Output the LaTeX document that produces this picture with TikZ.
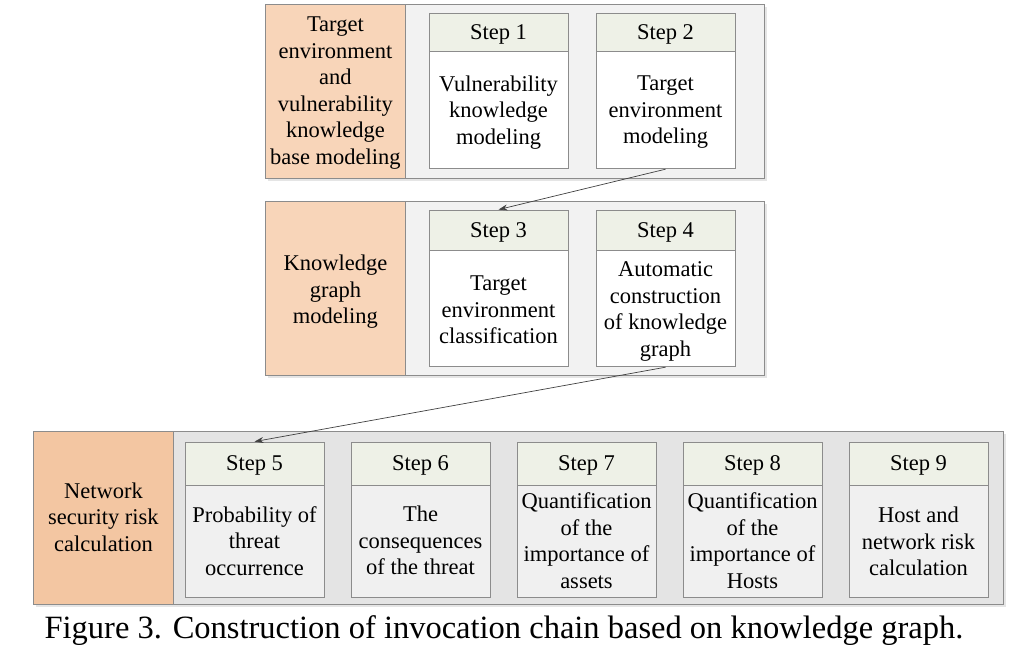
\documentclass[tikz,border=0pt]{standalone}
\usepackage{fontspec}
\setmainfont{Liberation Serif}
\usetikzlibrary{arrows.meta}
\definecolor{orangeA}{HTML}{F8D5B9}
\definecolor{orangeB}{HTML}{F3C6A2}
\definecolor{panelA}{HTML}{F2F2F2}
\definecolor{panelB}{HTML}{E4E4E4}
\definecolor{headC}{HTML}{EEF1E7}
\definecolor{bodyB}{HTML}{F0F0F0}
\definecolor{edgeC}{HTML}{8C8C8C}
\tikzset{
  txt/.style={font=\fontsize{22.5}{26.5}\selectfont, align=center, inner sep=0pt},
  panel/.style={draw=edgeC, line width=0.8pt, rectangle},
  sidecell/.style={draw=edgeC, line width=0.8pt, rectangle, inner sep=0pt, txt},
  stephead/.style={draw=edgeC, line width=0.8pt, fill=headC, rectangle, inner sep=0pt, minimum width=139pt, txt, text depth=0pt},
  stepbody/.style={draw=edgeC, line width=0.8pt, rectangle, inner sep=0pt, minimum width=139pt, txt},
  link/.style={draw=black!75, line width=0.7pt, -{Stealth[length=9pt,width=6pt]}},
}
\begin{document}
\begin{tikzpicture}[x=1pt,y=-1pt]
\useasboundingbox (0,0) rectangle (1034,666);
% shadows
\fill[black!10] (268,7) rectangle (767,181);
\fill[black!10] (268,204) rectangle (767,378);
\fill[black!10] (36,434) rectangle (1006,607);
% panels
\node[panel, fill=panelA, minimum width=499pt, minimum height=174pt, anchor=north west] (p1) at (265,4) {};
\node[panel, fill=panelA, minimum width=499pt, minimum height=174pt, anchor=north west] (p2) at (265,201) {};
\node[panel, fill=panelB, minimum width=970pt, minimum height=173pt, anchor=north west] (p3) at (33,431) {};
% side cells
\node[sidecell, fill=orangeA, minimum width=140pt, minimum height=174pt, anchor=north west] (c1) at (265,4) {};
\node[txt] at ([yshift=-1.5pt]c1.center) {Target\\environment\\and\\vulnerability\\knowledge\\base modeling};
\node[sidecell, fill=orangeA, minimum width=140pt, minimum height=174pt, anchor=north west] (c2) at (265,201) {};
\node[txt] at ([yshift=-3.5pt]c2.center) {Knowledge\\graph\\modeling};
\node[sidecell, fill=orangeB, minimum width=140pt, minimum height=173pt, anchor=north west] (c3) at (33,431) {};
\node[txt] at ([yshift=1pt]c3.center) {Network\\security risk\\calculation};
% step 1, 2
\node[stephead, minimum height=38pt] (s1h) at (498.5,32) {Step 1};
\node[stepbody, fill=white, minimum height=117pt, anchor=north] (s1b) at (s1h.south) {};
\node[txt] at ([yshift=-2pt]s1b.center) {Vulnerability\\knowledge\\modeling};
\node[stephead, minimum height=38pt] (s2h) at (665.5,32) {Step 2};
\node[stepbody, fill=white, minimum height=117pt, anchor=north] (s2b) at (s2h.south) {};
\node[txt] at ([yshift=-2pt]s2b.center) {Target\\environment\\modeling};
% step 3, 4
\node[stephead, minimum height=40pt] (s3h) at (498.5,230) {Step 3};
\node[stepbody, fill=white, minimum height=116pt, anchor=north] (s3b) at (s3h.south) {};
\node[txt] at ([yshift=-1pt]s3b.center) {Target\\environment\\classification};
\node[stephead, minimum height=40pt] (s4h) at (665.5,230) {Step 4};
\node[stepbody, fill=white, minimum height=116pt, anchor=north] (s4b) at (s4h.south) {};
\node[txt] at ([yshift=-2.5pt]s4b.center) {Automatic\\construction\\of knowledge\\graph};
% steps 5-9
\node[stephead, minimum height=43pt] (s5h) at (254.5,463.5) {Step 5};
\node[stepbody, fill=bodyB, minimum height=112pt, anchor=north] (s5b) at (s5h.south) {};
\node[txt] at ([yshift=1pt]s5b.center) {Probability of\\threat\\occurrence};
\node[stephead, minimum height=43pt] (s6h) at (420.5,463.5) {Step 6};
\node[stepbody, fill=bodyB, minimum height=112pt, anchor=north] (s6b) at (s6h.south) {};
\node[txt] at ([yshift=1pt]s6b.center) {The\\consequences\\of the threat};
\node[stephead, minimum height=43pt] (s7h) at (586.5,463.5) {Step 7};
\node[stepbody, fill=bodyB, minimum height=112pt, anchor=north] (s7b) at (s7h.south) {};
\node[txt] at ([yshift=1pt]s7b.center) {Quantification\\of the\\importance of\\assets};
\node[stephead, minimum height=43pt] (s8h) at (752.5,463.5) {Step 8};
\node[stepbody, fill=bodyB, minimum height=112pt, anchor=north] (s8b) at (s8h.south) {};
\node[txt] at ([yshift=1pt]s8b.center) {Quantification\\of the\\importance of\\Hosts};
\node[stephead, minimum height=43pt] (s9h) at (918.5,463.5) {Step 9};
\node[stepbody, fill=bodyB, minimum height=112pt, anchor=north] (s9b) at (s9h.south) {};
\node[txt] at (s9b.center) {Host and\\network risk\\calculation};
% connectors
\draw[link] (s2b.south) -- (s3h.north);
\draw[link] (s4b.south) -- (s5h.north);
% caption
\node[font=\fontsize{32.5}{36}\selectfont, inner sep=0pt, anchor=base] (cap) at (504,638.5) {Figure 3. Construction of invocation chain based on knowledge graph.};
\end{tikzpicture}
\end{document}
